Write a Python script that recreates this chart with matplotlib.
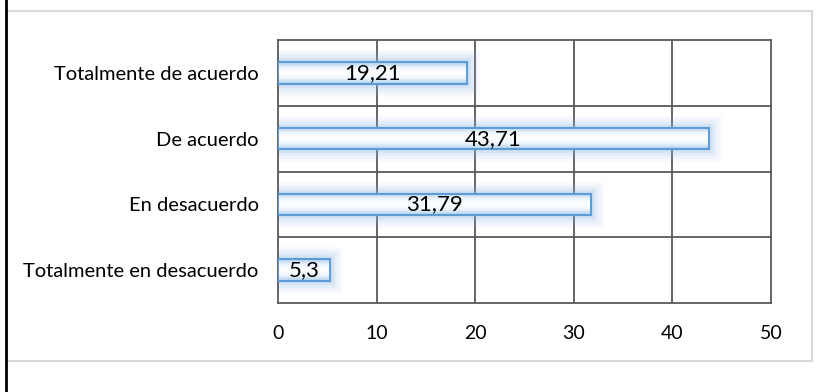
import numpy as np
import matplotlib.pyplot as plt
from matplotlib.patches import Rectangle
from matplotlib.colors import LinearSegmentedColormap

plt.rcParams['font.family'] = ['Lato', 'DejaVu Sans']

categorias = ['Totalmente en desacuerdo', 'En desacuerdo', 'De acuerdo', 'Totalmente de acuerdo']
valores = [5.3, 31.79, 43.71, 19.21]
etiquetas = ['5,3', '31,79', '43,71', '19,21']

W, H = 826, 392
fig = plt.figure(figsize=(W/100, H/100), dpi=100)

# page margin line and chart frame
fig.add_artist(plt.Line2D([6/W, 6/W], [0, 1], color='black', lw=2))
fig.add_artist(Rectangle((7/W, 1 - 361/H), 805/W, 350/H, transform=fig.transFigure,
                         fill=False, edgecolor='#D9D9D9', lw=1.5))

ax = fig.add_axes([278/W, 1 - 303/H, 493/W, 263/H])
y = np.arange(len(categorias))
alto = 0.33
borde = '#5B9BD5'
grad = LinearSegmentedColormap.from_list('g', ['#A9CCEC', '#EEF5FC', '#FFFFFF', '#EEF5FC', '#A9CCEC'])

for yi, v, txt in zip(y, valores, etiquetas):
    # soft outer glow
    for lw, a in [(18, 0.06), (14, 0.08), (10, 0.11), (6, 0.16), (3, 0.2)]:
        ax.barh(yi, v, height=alto, color='none', edgecolor='#8DBAE6', lw=lw, alpha=a, zorder=2)
    g = np.linspace(0, 1, 60).reshape(-1, 1)
    ax.imshow(g, cmap=grad, extent=(0, v, yi - alto/2, yi + alto/2), aspect='auto', zorder=3)
    ax.barh(yi, v, height=alto, color='none', edgecolor=borde, lw=1.4, zorder=4)
    ax.text(v/2, yi, txt, ha='center', va='center', fontsize=16, color='black', zorder=5)

ax.set_xlim(0, 50)
ax.set_ylim(-0.5, len(categorias) - 0.5)
ax.set_xticks(np.arange(0, 51, 10))
ax.set_yticks(y)
ax.set_yticklabels(categorias, fontsize=14.5)
ax.tick_params(axis='x', labelsize=14, length=0, pad=16)
ax.tick_params(axis='y', length=0, pad=14)
for xv in range(10, 50, 10):
    ax.axvline(xv, color='#595959', lw=1.3, zorder=1)
for yv in np.arange(0.5, len(categorias) - 0.5, 1):
    ax.axhline(yv, color='#595959', lw=1.3, zorder=1)
for s in ax.spines.values():
    s.set_color('#595959')
    s.set_linewidth(1.3)

fig.savefig('out.png', dpi=100)
